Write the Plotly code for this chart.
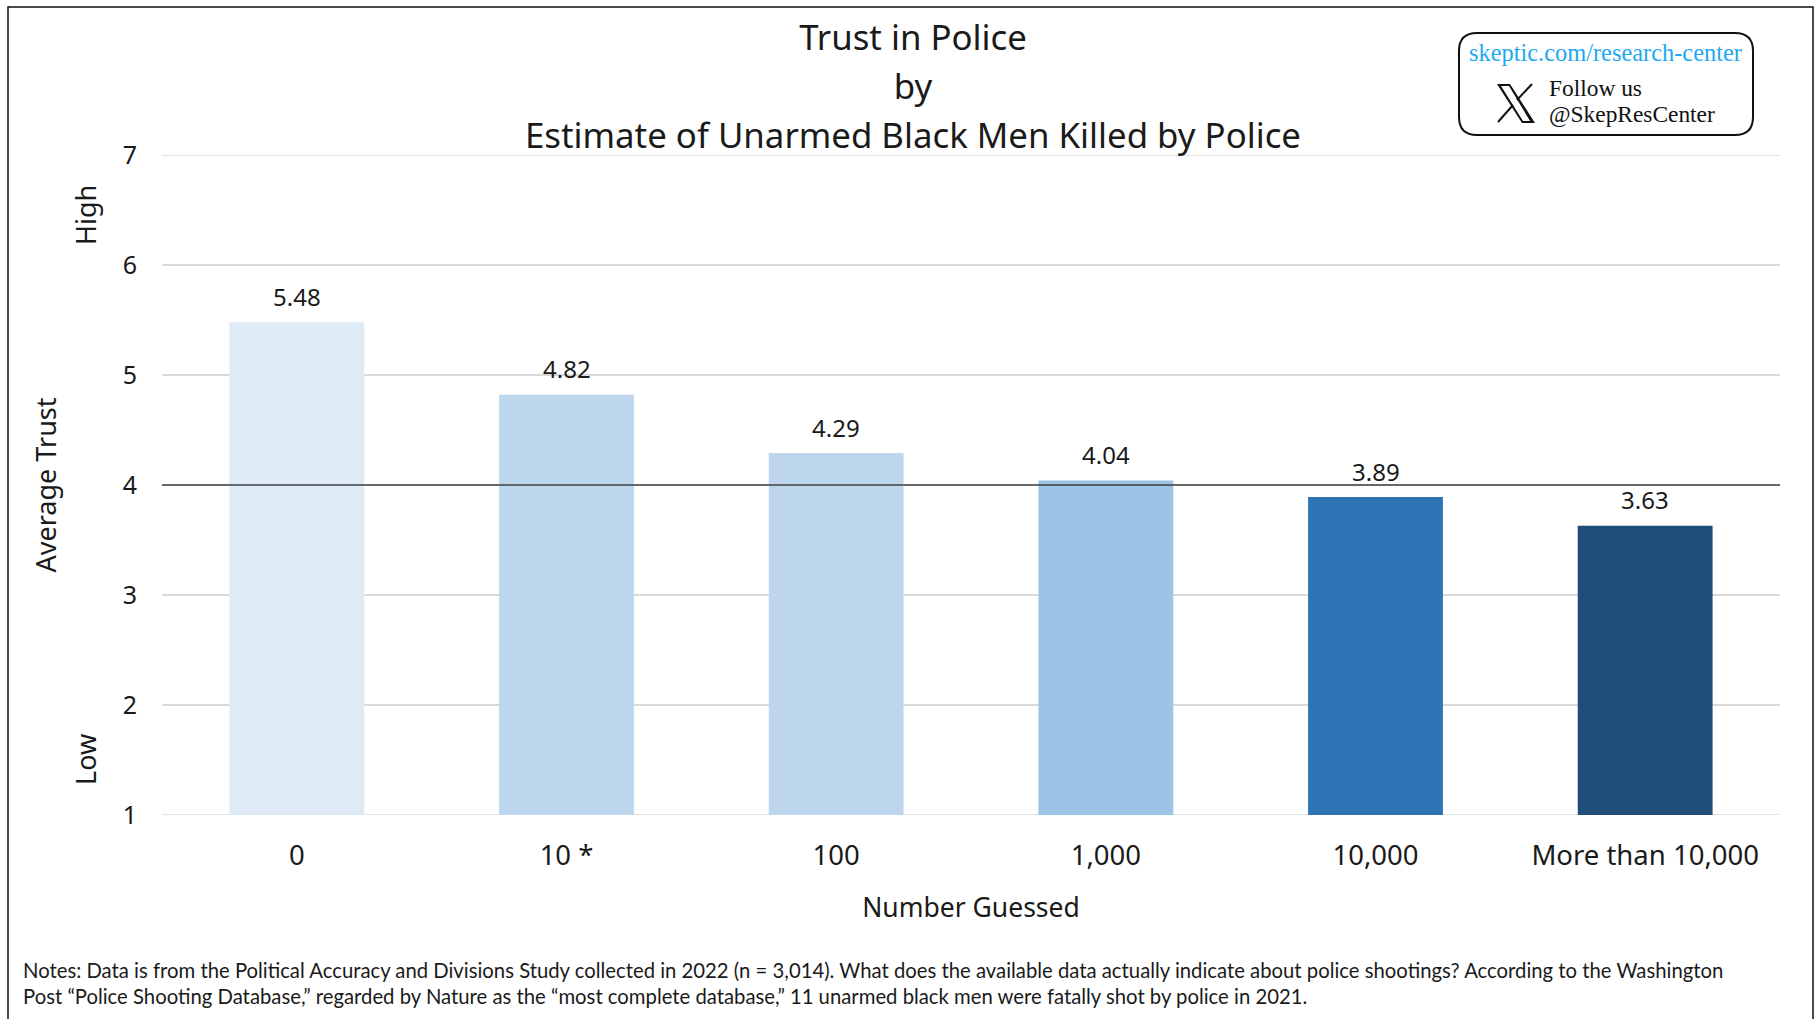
import plotly.graph_objects as go

categories = ["0", "10 *", "100", "1,000", "10,000", "More than 10,000"]
values = [5.48, 4.82, 4.29, 4.04, 3.89, 3.63]
labels = ["5.48", "4.82", "4.29", "4.04", "3.89", "3.63"]
bar_colors = ["#DEEAF6", "#BDD6EE", "#BDD6EE", "#9DC3E6", "#2E75B6", "#1F4E79"]
y_ticks = [1, 2, 3, 4, 5, 6, 7]
reference_level = 4

W, H = 1818, 1019
MAIN = "Noto Sans"
SERIF = "Liberation Serif"
INK = "#1a1a1a"

def px(x):
    return x / W

def py(y):
    return 1 - y / H

fig = go.Figure(go.Bar(
    x=categories, y=values, marker=dict(color=bar_colors, line=dict(width=0)),
    hoverinfo="x+y", width=0.5,
))

edge_grid = [
    dict(type="line", xref="paper", yref="y", x0=px(162), x1=px(1780), y0=v, y1=v,
         line=dict(color="#D9D9D9", width=1.5), layer="below")
    for v in (y_ticks[0], y_ticks[-1])
]

# category axes read numeric-looking strings as indices, so place labels by index
value_labels = [
    dict(text=t, x=i, y=v, xref="x", yref="y", yshift=26, yanchor="middle", xanchor="center",
         showarrow=False, font=dict(family=MAIN, size=24, color=INK))
    for i, (v, t) in enumerate(zip(values, labels))
]

fig.update_layout(
    width=W, height=H, autosize=False,
    margin=dict(l=0, r=0, t=0, b=0),
    paper_bgcolor="white", plot_bgcolor="white", showlegend=False,
    font=dict(family=MAIN, color=INK),
    title=dict(
        text='<span style="font-size:34.8px">Trust in Police</span><br>'
             '<span style="font-size:34.8px">by</span><br>'
             '<span style="font-size:34.8px">Estimate of Unarmed Black Men Killed by Police</span>',
        font=dict(family=MAIN, size=37.5, color=INK),
        x=913 / W, xanchor="center", y=py(50), yanchor="top",
    ),
    xaxis=dict(
        domain=[px(162), px(1780)], range=[-0.5, 5.5], type="category", automargin=False,
        showgrid=False, showline=False, zeroline=False, ticks="", ticklabelstandoff=21,
        tickfont=dict(family=MAIN, size=27.5, color=INK),
        title=dict(text="Number Guessed", font=dict(family=MAIN, size=26.5, color=INK), standoff=26),
    ),
    yaxis=dict(
        domain=[py(815), py(155)], range=[1, 7], tickvals=y_ticks, automargin=False,
        showgrid=True, gridcolor="#D9D9D9", gridwidth=1.5, zeroline=False, showline=False,
        ticks="", ticklabelstandoff=24,
        tickfont=dict(family=MAIN, size=25, color=INK),
        title=dict(text="Average Trust", font=dict(family=MAIN, size=27, color=INK), standoff=58),
    ),
    shapes=edge_grid + [
        dict(type="line", xref="paper", yref="y", x0=px(162), x1=px(1780),
             y0=reference_level, y1=reference_level, line=dict(color="#404040", width=1.5)),
        # outer frame, open at the bottom
        dict(type="path", xref="paper", yref="paper", line=dict(color="#111111", width=1.5),
             path=f"M {px(8)} 0 L {px(8)} {py(7)} L {px(1813)} {py(7)} L {px(1813)} 0"),
        # follow-us box
        dict(type="path", xref="paper", yref="paper", line=dict(color="#111111", width=2),
             path=" ".join([
                 f"M {px(1477)} {py(33)}", f"L {px(1735)} {py(33)}",
                 f"Q {px(1753)} {py(33)} {px(1753)} {py(51)}", f"L {px(1753)} {py(117)}",
                 f"Q {px(1753)} {py(135)} {px(1735)} {py(135)}", f"L {px(1477)} {py(135)}",
                 f"Q {px(1459)} {py(135)} {px(1459)} {py(117)}", f"L {px(1459)} {py(51)}",
                 f"Q {px(1459)} {py(33)} {px(1477)} {py(33)} Z"])),
        # X logo
        dict(type="path", xref="paper", yref="paper", line=dict(width=0), fillcolor="#111111",
             path=" ".join([
                 f"M {px(1497)} {py(84)}", f"L {px(1510)} {py(84)}", f"L {px(1535)} {py(123)}",
                 f"L {px(1522)} {py(123)}", "Z",
                 f"M {px(1501)} {py(86)}", f"L {px(1509)} {py(86)}", f"L {px(1530)} {py(121)}",
                 f"L {px(1523)} {py(121)}", "Z"])),
        dict(type="line", xref="paper", yref="paper", x0=px(1498), x1=px(1513), y0=py(122), y1=py(105),
             line=dict(color="#111111", width=2)),
        dict(type="line", xref="paper", yref="paper", x0=px(1517), x1=px(1532), y0=py(100), y1=py(84),
             line=dict(color="#111111", width=2)),
    ],
    annotations=value_labels + [
        dict(text="High", xref="paper", yref="paper", x=px(85), y=py(215), textangle=-90,
             xanchor="center", yanchor="middle", showarrow=False, font=dict(family=MAIN, size=27, color=INK)),
        dict(text="Low", xref="paper", yref="paper", x=px(85), y=py(760), textangle=-90,
             xanchor="center", yanchor="middle", showarrow=False, font=dict(family=MAIN, size=27, color=INK)),
        dict(text="skeptic.com/research-center", xref="paper", yref="paper", x=px(1605), y=py(53),
             xanchor="center", yanchor="middle", showarrow=False, font=dict(family=SERIF, size=24.4, color="#1DA9F0")),
        dict(text="Follow us", xref="paper", yref="paper", x=px(1547), y=py(88), xanchor="left",
             yanchor="middle", showarrow=False, font=dict(family=SERIF, size=23.4, color="#111111")),
        dict(text="@SkepResCenter", xref="paper", yref="paper", x=px(1547), y=py(114), xanchor="left",
             yanchor="middle", showarrow=False, font=dict(family=SERIF, size=23.4, color="#111111")),
        dict(text="Notes: Data is from the Political Accuracy and Divisions Study collected in 2022 (n = 3,014). "
                  "What does the available data actually indicate about police shootings? According to the Washington<br>"
                  "Post “Police Shooting Database,” regarded by Nature as the “most complete database,” 11 unarmed "
                  "black men were fatally shot by police in 2021.",
             xref="paper", yref="paper", x=px(21), y=py(956), xanchor="left", yanchor="top", align="left",
             showarrow=False, font=dict(family="Lato", size=20.3, color=INK)),
    ],
)

fig.write_html("out.html", config=dict(displayModeBar=False),
               post_script="document.body.style.margin='0';document.body.style.overflow='hidden';")
